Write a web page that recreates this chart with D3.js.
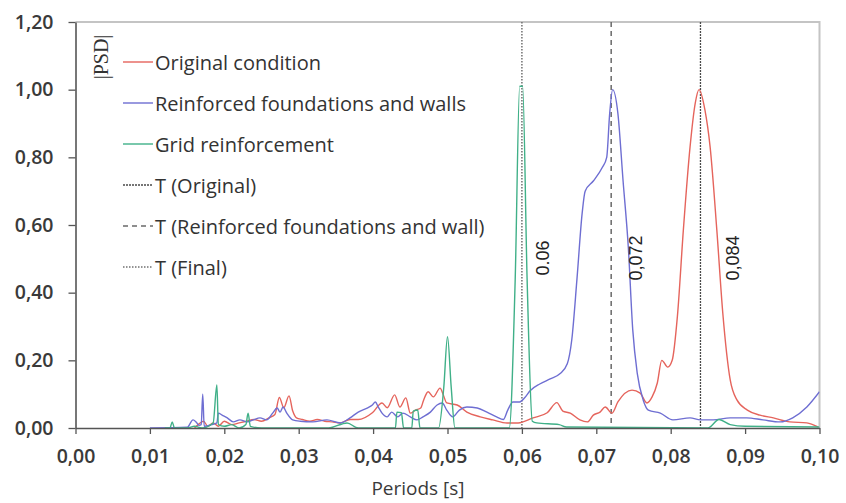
<!DOCTYPE html>
<html>
<head>
<meta charset="utf-8">
<script src="https://cdn.jsdelivr.net/npm/d3@7.9.0/dist/d3.min.js"></script>
<style>
  body { margin: 0; background: #fff; }
  svg { display: block; }
  .tick text { font-family: "Open Sans", sans-serif; font-size: 19.5px; font-weight: 600; fill: #3a3a3a; }
</style>
</head>
<body>
<div id="chart"></div>
<script>
// Axis ticks
const periodTicks = [0, 0.01, 0.02, 0.03, 0.04, 0.05, 0.06, 0.07, 0.08, 0.09, 0.10];
const psdTicks = [0, 0.2, 0.4, 0.6, 0.8, 1.0, 1.2];

// Series: [period (s), |PSD|]
const originalCondition = [
  [0.0160, 0.000], [0.0165, 0.010], [0.0172, 0.020], [0.0178, 0.005], [0.0185, 0.015],
  [0.0192, 0.005], [0.0200, 0.020], [0.0210, 0.010], [0.0220, 0.015], [0.0230, 0.020],
  [0.0240, 0.025], [0.0250, 0.020], [0.0260, 0.030], [0.0268, 0.040], [0.0274, 0.090],
  [0.0280, 0.060], [0.0287, 0.095], [0.0292, 0.050], [0.0297, 0.030], [0.0305, 0.025],
  [0.0315, 0.020], [0.0325, 0.025], [0.0335, 0.020], [0.0345, 0.018], [0.0356, 0.015],
  [0.0369, 0.025], [0.0380, 0.025], [0.0399, 0.045], [0.0412, 0.074], [0.0419, 0.060],
  [0.0429, 0.098], [0.0436, 0.062], [0.0444, 0.089], [0.0450, 0.044], [0.0457, 0.053],
  [0.0464, 0.059], [0.0468, 0.083], [0.0474, 0.107], [0.0481, 0.092], [0.0490, 0.118],
  [0.0494, 0.100], [0.0499, 0.074], [0.0513, 0.068], [0.0526, 0.047], [0.0544, 0.033],
  [0.0561, 0.024], [0.0580, 0.015], [0.0595, 0.015], [0.0615, 0.030], [0.0634, 0.045],
  [0.0647, 0.075], [0.0655, 0.050], [0.0665, 0.044], [0.0678, 0.024], [0.0688, 0.018],
  [0.0696, 0.038], [0.0705, 0.047], [0.0712, 0.062], [0.0721, 0.044], [0.0729, 0.077],
  [0.0748, 0.112], [0.0759, 0.103], [0.0768, 0.074], [0.0775, 0.092], [0.0782, 0.133],
  [0.0788, 0.200], [0.0796, 0.180], [0.0802, 0.200], [0.0809, 0.330], [0.0817, 0.585],
  [0.0826, 0.830], [0.0833, 0.960], [0.0838, 1.000], [0.0846, 0.940], [0.0853, 0.830],
  [0.0862, 0.585], [0.0870, 0.340], [0.0880, 0.142], [0.0889, 0.083], [0.0903, 0.053],
  [0.0920, 0.038], [0.0938, 0.030], [0.0960, 0.018], [0.0983, 0.015], [0.0998, 0.003]
];

const reinforcedFoundations = [
  [0.0100, 0.000], [0.0150, 0.002], [0.0158, 0.024], [0.0162, 0.018], [0.0166, 0.008],
  [0.0169, 0.010], [0.0171, 0.100], [0.0173, 0.005], [0.0183, 0.010], [0.0190, 0.015],
  [0.0192, 0.044], [0.0197, 0.038], [0.0204, 0.030], [0.0212, 0.018], [0.0221, 0.024],
  [0.0231, 0.018], [0.0239, 0.024], [0.0248, 0.030], [0.0257, 0.024], [0.0265, 0.044],
  [0.0271, 0.059], [0.0275, 0.047], [0.0279, 0.062], [0.0284, 0.044], [0.0292, 0.024],
  [0.0302, 0.020], [0.0319, 0.018], [0.0338, 0.024], [0.0356, 0.015], [0.0369, 0.030],
  [0.0380, 0.047], [0.0392, 0.059], [0.0399, 0.068], [0.0403, 0.077], [0.0407, 0.062],
  [0.0412, 0.044], [0.0419, 0.033], [0.0425, 0.047], [0.0433, 0.033], [0.0440, 0.044],
  [0.0450, 0.033], [0.0459, 0.024], [0.0467, 0.033], [0.0477, 0.047], [0.0486, 0.068],
  [0.0493, 0.074], [0.0499, 0.053], [0.0507, 0.033], [0.0516, 0.053], [0.0526, 0.062],
  [0.0540, 0.059], [0.0553, 0.047], [0.0566, 0.033], [0.0575, 0.025], [0.0581, 0.053],
  [0.0588, 0.077], [0.0597, 0.077], [0.0604, 0.090], [0.0611, 0.110], [0.0624, 0.130],
  [0.0638, 0.145], [0.0651, 0.160], [0.0661, 0.190], [0.0667, 0.260], [0.0674, 0.440],
  [0.0681, 0.635], [0.0685, 0.700], [0.0696, 0.730], [0.0708, 0.770], [0.0714, 0.800],
  [0.0718, 0.930], [0.0722, 1.000], [0.0729, 0.930], [0.0736, 0.730], [0.0743, 0.535],
  [0.0749, 0.290], [0.0755, 0.162], [0.0763, 0.083], [0.0770, 0.053], [0.0786, 0.044],
  [0.0803, 0.024], [0.0826, 0.030], [0.0840, 0.024], [0.0857, 0.024], [0.0880, 0.030],
  [0.0902, 0.030], [0.0924, 0.024], [0.0947, 0.018], [0.0964, 0.030], [0.0983, 0.062],
  [0.1000, 0.107]
];

const gridReinforcement = [
  [0.0120, 0.000], [0.0127, 0.000], [0.0130, 0.018], [0.0133, 0.000], [0.0150, 0.000],
  [0.0160, 0.005], [0.0170, 0.000], [0.0185, 0.015], [0.0190, 0.127], [0.0192, 0.010],
  [0.0200, 0.005], [0.0210, 0.010], [0.0220, 0.000], [0.0229, 0.010], [0.0232, 0.044],
  [0.0235, 0.005], [0.0250, 0.000], [0.0340, 0.000], [0.0365, 0.015], [0.0380, 0.000],
  [0.0430, 0.000], [0.0432, 0.047], [0.0438, 0.045], [0.0441, 0.000], [0.0452, 0.000],
  [0.0454, 0.050], [0.0460, 0.053], [0.0463, 0.000], [0.0488, 0.000], [0.0495, 0.120],
  [0.0500, 0.270], [0.0505, 0.120], [0.0510, 0.000], [0.0583, 0.000], [0.0591, 0.440],
  [0.0597, 1.010], [0.0601, 1.010], [0.0607, 0.440], [0.0614, 0.020], [0.0620, 0.015],
  [0.0650, 0.010], [0.0660, 0.003], [0.0850, 0.000], [0.0865, 0.025], [0.0880, 0.010],
  [0.0900, 0.005], [0.1000, 0.003]
];

// Characteristic periods (vertical markers)
const markPeriods = [0.084, 0.072, 0.06];
const markLabels = ['0,084', '0,072', '0.06'];
const markNames = ['T (Original)', 'T (Reinforced foundations and wall)', 'T (Final)'];

const seriesNames = ['Original condition', 'Reinforced foundations and walls', 'Grid reinforcement'];
const seriesData = [originalCondition, reinforcedFoundations, gridReinforcement];

// styles
const seriesColors = ['#e5645c', '#6e6ed2', '#40b088'];
const markStyles = [
  { color: '#4a4a4a', dash: '2,1', width: 1.3 },
  { color: '#6a6a6a', dash: '5,4', width: 1.5 },
  { color: '#707070', dash: '1.5,1.5', width: 1.5 },
];
const markLabelOffsets = [33, 25, 21];

const width = 846;
const height = 503;
const area = { left: 75.5, right: 819.5, top: 22, bottom: 428 };

const locale = d3.formatLocale({ decimal: ',', thousands: '.', grouping: [3], currency: ['', ''] });
const fmt = locale.format('.2f');

const svg = d3.select('#chart')
  .append('svg')
  .attr('width', width)
  .attr('height', height)
  .attr('viewBox', `0 0 ${width} ${height}`);

const x = d3.scaleLinear().domain([0, 0.10]).range([area.left, area.right]);
const y = d3.scaleLinear().domain([0, 1.2]).range([area.bottom, area.top]);

// plot area border (top / right light grey)
svg.append('path')
  .attr('d', `M${area.left},${area.top}H${area.right}V${area.bottom}`)
  .attr('fill', 'none')
  .attr('stroke', '#c4c4c4')
  .attr('stroke-width', 2);

svg.append('defs').append('clipPath').attr('id', 'plot-clip')
  .append('rect')
  .attr('x', area.left).attr('y', area.top - 10)
  .attr('width', area.right - area.left).attr('height', area.bottom - area.top + 10);

// vertical period markers
svg.append('g')
  .selectAll('line')
  .data(markPeriods)
  .join('line')
  .attr('x1', (d) => x(d)).attr('x2', (d) => x(d))
  .attr('y1', area.top).attr('y2', area.bottom)
  .attr('stroke', (d, i) => markStyles[i].color)
  .attr('stroke-width', (d, i) => markStyles[i].width)
  .attr('stroke-dasharray', (d, i) => markStyles[i].dash);

// curves
const line = d3.line()
  .x((d) => x(d[0]))
  .y((d) => y(d[1]))
  .curve(d3.curveMonotoneX);

svg.append('g')
  .attr('clip-path', 'url(#plot-clip)')
  .selectAll('path')
  .data(seriesData)
  .join('path')
  .attr('d', line)
  .attr('fill', 'none')
  .attr('stroke', (d, i) => seriesColors[i])
  .attr('stroke-width', 1.4)
  .attr('stroke-linejoin', 'round');

// marker labels
svg.append('g')
  .selectAll('text')
  .data(markPeriods)
  .join('text')
  .attr('transform', (d, i) => `translate(${x(d) + markLabelOffsets[i]},258) rotate(-90)`)
  .attr('text-anchor', 'middle')
  .attr('dominant-baseline', 'central')
  .style('font-family', '"Liberation Sans", Arial, sans-serif')
  .style('font-size', '18px')
  .style('fill', '#222')
  .text((d, i) => markLabels[i]);

// axes
const xAxis = svg.append('g')
  .attr('transform', `translate(0,${area.bottom})`)
  .call(d3.axisBottom(x).tickValues(periodTicks).tickFormat(fmt).tickSizeInner(6).tickSizeOuter(0).tickPadding(15));

const yAxis = svg.append('g')
  .attr('transform', `translate(${area.left},0)`)
  .call(d3.axisLeft(y).tickValues(psdTicks).tickFormat(fmt).tickSizeInner(7).tickSizeOuter(0).tickPadding(15));

[xAxis, yAxis].forEach((g) => {
  g.select('.domain').attr('stroke', '#555').attr('stroke-width', 1.6);
  g.selectAll('.tick line').attr('stroke', '#555').attr('stroke-width', 1.3);
});

// axis titles
svg.append('text')
  .attr('x', 418).attr('y', 495)
  .attr('text-anchor', 'middle')
  .style('font-family', '"Open Sans", sans-serif')
  .style('font-size', '19px')
  .style('fill', '#3a3a3a')
  .text('Periods [s]');

svg.append('text')
  .attr('transform', 'translate(101,57) rotate(-90)')
  .attr('text-anchor', 'middle')
  .attr('dominant-baseline', 'central')
  .style('font-family', '"Liberation Serif", "Times New Roman", serif')
  .style('font-size', '20px')
  .style('fill', '#333')
  .text('|PSD|');

// legend
const legendRows = seriesNames.map((name, i) => ({ name, color: seriesColors[i], dash: null, width: 1.4 }))
  .concat(markNames.map((name, i) => ({ name, color: markStyles[i].color, dash: markStyles[i].dash, width: 1.3 })));

const legend = svg.append('g').attr('transform', 'translate(123,62)');
const rows = legend.selectAll('g')
  .data(legendRows)
  .join('g')
  .attr('transform', (d, i) => `translate(0,${i * 41})`);

rows.append('line')
  .attr('x1', 0).attr('x2', 30)
  .attr('stroke', (d) => d.color)
  .attr('stroke-width', (d) => d.width)
  .attr('stroke-dasharray', (d) => d.dash);

rows.append('text')
  .attr('x', 32)
  .attr('dominant-baseline', 'central')
  .style('font-family', '"Open Sans", sans-serif')
  .style('font-size', '20px')
  .style('fill', '#333')
  .text((d) => d.name);
</script>
</body>
</html>
